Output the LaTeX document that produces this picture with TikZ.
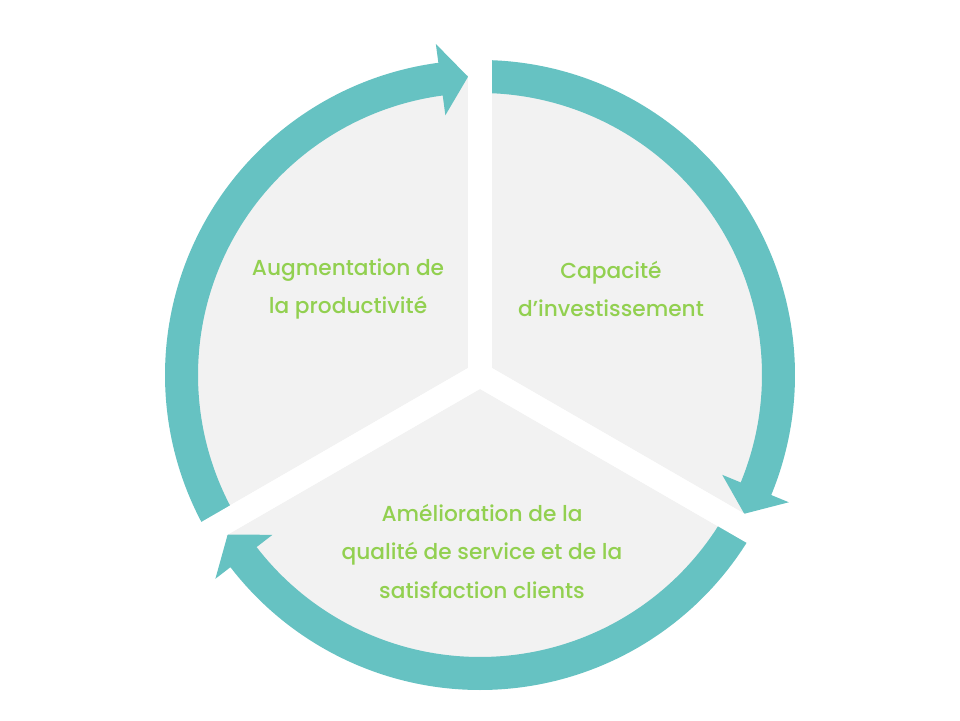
\documentclass[tikz,border=0pt]{standalone}
\usepackage{fontspec}
\usepackage{xcolor}
\usepackage{tikz}
\setmainfont{Poppins}[UprightFont=* Medium]
\definecolor{ringteal}{RGB}{102,194,194}
\definecolor{discgray}{RGB}{242,242,242}
\definecolor{labelgreen}{RGB}{146,208,80}

\begin{document}
\begin{tikzpicture}[x=1pt, y=1pt]
    % Define the styles
    \tikzstyle{disc} = [fill=discgray]
    \tikzstyle{gap} = [draw=white, line width=24pt]
    \tikzstyle{ring} = [fill=ringteal]
    \tikzstyle{label} = [text=labelgreen, align=center, font=\fontsize{21.7}{38.5}\selectfont]

    \useasboundingbox (0,0) rectangle (960,720);

    % Disc and the three white gaps
    \coordinate (ctr) at (480,345);
    \fill [disc] (ctr) circle [radius=300pt];
    \draw [gap] (ctr) -- ++(90:340pt);
    \draw [gap] (ctr) -- ++(-30:340pt);
    \draw [gap] (ctr) -- ++(210:340pt);

    % Place the ring arrows
    \begin{scope}[shift={(ctr)}]
        \fill [ring] (210:315pt) arc [start angle=210, end angle=97.6, radius=315pt]
            -- (97.6:334pt) -- (92.3:298.5pt) -- (97.6:262pt) -- (97.6:282pt)
            arc [start angle=97.6, end angle=210, radius=282pt] -- cycle;
        \fill [ring] (90:315pt) arc [start angle=90, end angle=-22.4, radius=315pt]
            -- (-22.4:334pt) -- (-27.7:298.5pt) -- (-22.4:262pt) -- (-22.4:282pt)
            arc [start angle=-22.4, end angle=90, radius=282pt] -- cycle;
        \fill [ring] (-30:315pt) arc [start angle=-30, end angle=-142.4, radius=315pt]
            -- (-142.4:334pt) -- (-147.7:298.5pt) -- (-142.4:262pt) -- (-142.4:282pt)
            arc [start angle=-142.4, end angle=-30, radius=282pt] -- cycle;
    \end{scope}
    \draw [gap] (ctr) -- ++(90:340pt);
    \draw [gap] (ctr) -- ++(-30:340pt);
    \draw [gap] (ctr) -- ++(210:340pt);

    % Place the labels
    \node [label] (prod) at (348,431) {Augmentation de\\la productivité};
    \node [label] (capa) at (611,431) {Capacité\\d’investissement};
    \node [label] (qual) at (482,169) {Amélioration de la\\qualité de service et de la\\satisfaction clients};

\end{tikzpicture}
\end{document}
